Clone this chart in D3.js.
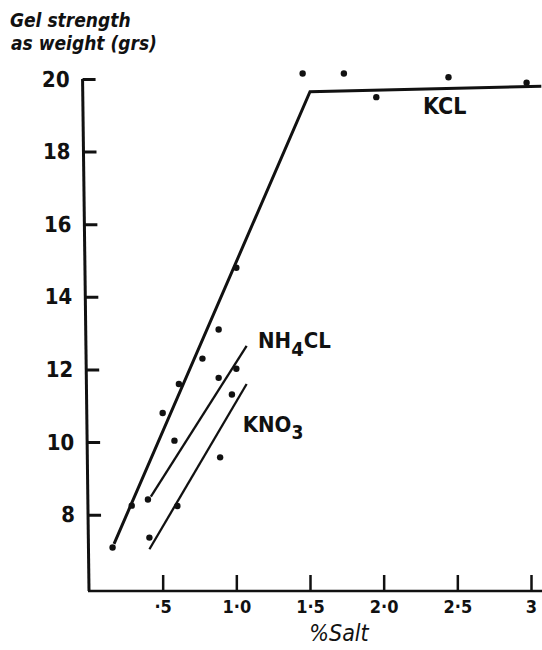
<!DOCTYPE html>
<html>
<head>
<meta charset="utf-8">
<script src="https://cdn.jsdelivr.net/npm/d3@7"></script>
<style>
  html, body { margin: 0; padding: 0; background: #fff; }
  svg { display: block; }
  text { fill: #111; }
</style>
</head>
<body>
<script>
// ---- data ----
const xTicks = [0.5, 1.0, 1.5, 2.0, 2.5, 3];
const xTickLabels = ["·5", "1·0", "1·5", "2·0", "2·5", "3"];
const yTicks = [8, 10, 12, 14, 16, 18, 20];

const kclX = [0.16, 0.29, 0.50, 0.61, 0.77, 0.88, 1.00, 1.45, 1.73, 1.95, 2.44, 2.97];
const kclY = [7.1, 8.25, 10.8, 11.6, 12.3, 13.1, 14.8, 20.15, 20.15, 19.5, 20.05, 19.9];
const kclLineX = [0.17, 1.50, 3.07];
const kclLineY = [7.2, 19.65, 19.8];

const nh4X = [0.40, 0.58, 0.88, 1.00];
const nh4Y = [8.42, 10.04, 11.77, 12.02];
const nh4LineX = [0.42, 1.07];
const nh4LineY = [8.5, 12.65];

const kno3X = [0.41, 0.60, 0.89, 0.97];
const kno3Y = [7.37, 8.24, 9.58, 11.31];
const kno3LineX = [0.41, 1.07];
const kno3LineY = [7.05, 11.6];

// ---- drawing ----
const W = 542, H = 650;
const FONT = "'DejaVu Sans Condensed', 'DejaVu Sans', sans-serif";
const svg = d3.select("body").append("svg").attr("width", W).attr("height", H);

const x = d3.scaleLinear().domain([0, 3]).range([89, 531]);
const y = d3.scaleLinear().domain([5.9, 20]).range([591, 79]);

// y axis (slightly leaning, as drawn by hand)
const yAxis = d3.axisLeft(y).tickValues(yTicks).tickSize(-13).tickPadding(13).tickSizeOuter(0);
const gy = svg.append("g")
  .attr("transform", `translate(${x(0)},0) translate(0,591) skewX(0.72) translate(0,-591)`)
  .call(yAxis);
gy.select(".domain").attr("d", `M0,${y(5.9)}V${y(20)}`);
gy.selectAll("path, line").attr("stroke", "#111").attr("stroke-width", 3);
gy.selectAll("text").attr("font-family", FONT).attr("font-weight", "bold")
  .attr("font-size", 22).attr("fill", "#111");

// x axis
const xAxis = d3.axisBottom(x).tickValues(xTicks).tickFormat((d, i) => xTickLabels[i])
  .tickSize(-16).tickPadding(7).tickSizeOuter(0);
const gx = svg.append("g").attr("transform", `translate(0,${y(5.9)})`).call(xAxis);
gx.select(".domain").attr("d", `M${x(0) - 1},0H${W}`);
gx.selectAll("path, line").attr("stroke", "#111").attr("stroke-width", 2.5);
gx.selectAll("text").attr("font-family", FONT).attr("font-weight", "bold")
  .attr("font-size", 18).attr("fill", "#111").attr("dy", "0.85em");

// lines
const line = d3.line().x(d => x(d[0])).y(d => y(d[1]));
function drawLine(xs, ys, w) {
  svg.append("path").datum(xs.map((v, i) => [v, ys[i]]))
    .attr("d", line).attr("fill", "none").attr("stroke", "#111")
    .attr("stroke-width", w).attr("stroke-linejoin", "miter");
}
drawLine(kclLineX, kclLineY, 3);
drawLine(nh4LineX, nh4LineY, 2.3);
drawLine(kno3LineX, kno3LineY, 2.3);

// points
function drawDots(xs, ys) {
  svg.append("g").selectAll("circle").data(xs.map((v, i) => [v, ys[i]])).join("circle")
    .attr("cx", d => x(d[0])).attr("cy", d => y(d[1])).attr("r", 3.2).attr("fill", "#111");
}
drawDots(kclX, kclY);
drawDots(nh4X, nh4Y);
drawDots(kno3X, kno3Y);

// series labels
svg.append("text").attr("x", x(2.267)).attr("y", y(19.04))
  .attr("font-family", FONT).attr("font-weight", "bold").attr("font-size", 23).text("KCL");
const t1 = svg.append("text").attr("x", x(1.147)).attr("y", y(12.59))
  .attr("font-family", FONT).attr("font-weight", "bold").attr("font-size", 22);
t1.append("tspan").text("NH");
t1.append("tspan").attr("dy", 8).attr("font-size", 20).text("4");
t1.append("tspan").attr("dy", -8).text("CL");
const t2 = svg.append("text").attr("x", x(1.043)).attr("y", y(10.29))
  .attr("font-family", FONT).attr("font-weight", "bold").attr("font-size", 22);
t2.append("tspan").text("KNO");
t2.append("tspan").attr("dy", 7).attr("font-size", 19).text("3");

// axis titles
svg.append("text").attr("x", 10).attr("y", 27)
  .attr("font-family", FONT).attr("font-weight", "bold").attr("font-style", "italic")
  .attr("font-size", 19).text("Gel strength");
svg.append("text").attr("x", 11).attr("y", 50)
  .attr("font-family", FONT).attr("font-weight", "bold").attr("font-style", "italic")
  .attr("font-size", 19).text("as weight (grs)");
svg.append("text").attr("x", 339).attr("y", 641).attr("text-anchor", "middle")
  .attr("font-family", FONT).attr("font-style", "italic")
  .attr("font-size", 23).text("%Salt");
</script>
</body>
</html>
